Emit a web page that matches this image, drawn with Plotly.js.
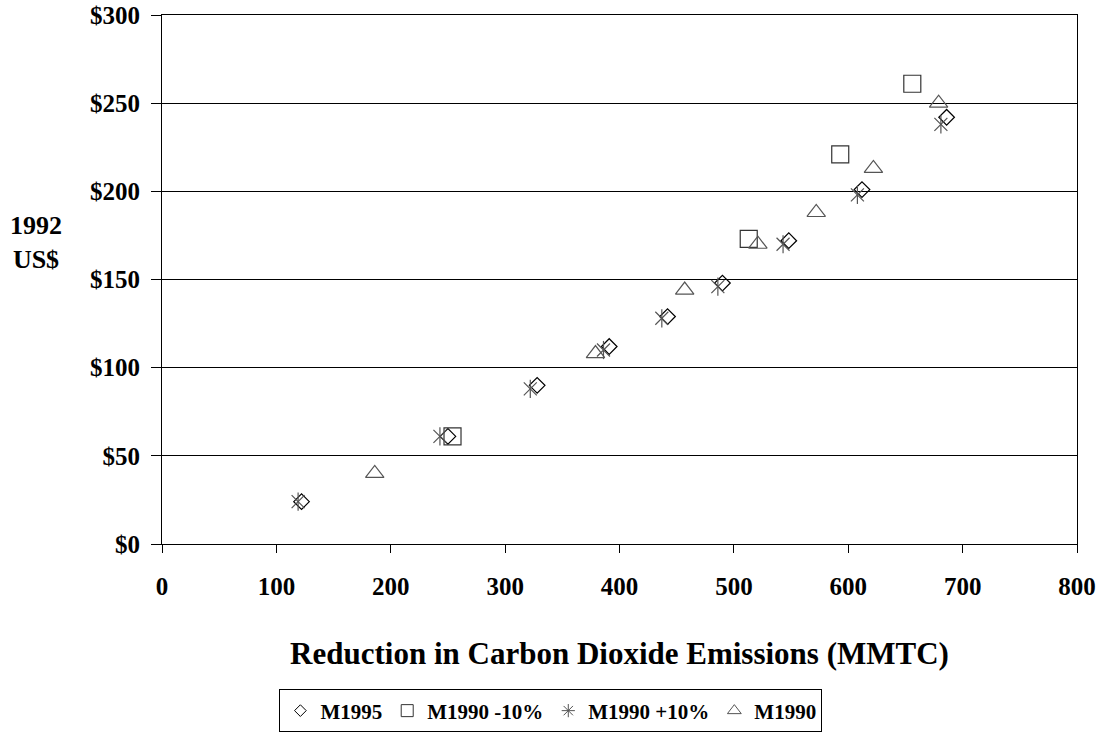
<!DOCTYPE html>
<html>
<head>
<meta charset="utf-8">
<script src="https://cdn.plot.ly/plotly-3.0.1.min.js"></script>
<style>html,body{margin:0;padding:0;background:#fff;}#chart{width:1102px;height:733px;}</style>
</head>
<body>
<div id="chart"></div>
<script>
// Data
const seriesNames = ["M1995", "M1990 -10%", "M1990 +10%", "M1990"];
const m1995X = [122, 250, 328, 391, 442, 490, 548, 612, 686];
const m1995Y = [24, 61, 90, 112, 129, 148, 172, 201, 242];
const m1990MinusX = [254, 513, 593, 656];
const m1990MinusY = [61, 173, 221, 261];
const m1990PlusX = [119, 243, 322, 386, 437, 486, 543, 608, 681];
const m1990PlusY = [24, 61, 88, 110, 128, 146, 170, 198, 238];
const m1990X = [186, 379, 457, 521, 572, 622, 679];
const m1990Y = [40, 108, 144, 170, 188, 213, 250];
const xTickVals = [0, 100, 200, 300, 400, 500, 600, 700, 800];
const yTickVals = [0, 50, 100, 150, 200, 250, 300];
const yTickText = ["$0", "$50", "$100", "$150", "$200", "$250", "$300"];

const FONT = "Liberation Serif, Times New Roman, serif";

const traces = [
  {x: m1995X, y: m1995Y, type: "scatter", mode: "markers", name: seriesNames[0], showlegend: false,
   marker: {symbol: "diamond-open", size: 12, color: "#000", line: {width: 1.2, color: "#000"}}},
  {x: m1990MinusX, y: m1990MinusY, type: "scatter", mode: "markers", name: seriesNames[1], showlegend: false,
   marker: {symbol: "square-open", size: 17, color: "#333", line: {width: 1.2, color: "#333"}}},
  {x: m1990PlusX, y: m1990PlusY, type: "scatter", mode: "markers", name: seriesNames[2], showlegend: false,
   marker: {symbol: "x-thin-open", size: 13, color: "#555", line: {width: 1.2, color: "#555"}}},
  {x: m1990PlusX, y: m1990PlusY, type: "scatter", mode: "markers", name: seriesNames[2], showlegend: false,
   marker: {symbol: "line-ns-open", size: 13, color: "#555", line: {width: 1.2, color: "#555"}}},
  {x: m1990X, y: m1990Y, type: "scatter", mode: "markers", name: seriesNames[3], showlegend: false,
   marker: {symbol: "triangle-up-open", size: 16, color: "#555", line: {width: 1.2, color: "#555"}}},
  // legend entries (small symbols as in the reference legend)
  {x: [null], y: [null], type: "scatter", mode: "markers", name: seriesNames[0],
   marker: {symbol: "diamond-open", size: 9, color: "#000", line: {width: 1, color: "#000"}}},
  {x: [null], y: [null], type: "scatter", mode: "markers", name: seriesNames[1],
   marker: {symbol: "square-open", size: 12, color: "#333", line: {width: 1, color: "#333"}}},
  {x: [null], y: [null], type: "scatter", mode: "markers", name: seriesNames[2],
   marker: {symbol: "asterisk-open", size: 11, color: "#555", line: {width: 1, color: "#555"}}},
  {x: [null], y: [null], type: "scatter", mode: "markers", name: seriesNames[3],
   marker: {symbol: "triangle-up-open", size: 12, color: "#555", line: {width: 1, color: "#555"}}}
];

const layout = {
  width: 1102, height: 733,
  paper_bgcolor: "#fff", plot_bgcolor: "#fff",
  margin: {l: 162, r: 25, t: 15, b: 189, autoexpand: false},
  font: {family: FONT, color: "#000", size: 21, weight: "bold"},
  xaxis: {
    range: [0, 800], tickmode: "array", tickvals: xTickVals, ticks: "outside", ticklen: 8, tickcolor: "#000", tickwidth: 1,
    showline: true, linecolor: "#000", linewidth: 1, mirror: true, automargin: false,
    showgrid: false, zeroline: false, ticklabelstandoff: 12,
    tickfont: {family: FONT, size: 25, weight: "bold", color: "#000"},
    title: {text: "Reduction in Carbon Dioxide Emissions (MMTC)", standoff: 43,
            font: {family: FONT, size: 31, weight: "bold", color: "#000"}}
  },
  yaxis: {
    range: [0, 300], tickmode: "array", tickvals: yTickVals, ticktext: yTickText, ticks: "outside", ticklen: 10, tickcolor: "#000", tickwidth: 1,
    showline: true, linecolor: "#000", linewidth: 1, mirror: true, automargin: false,
    showgrid: true, gridcolor: "#000", gridwidth: 1, zeroline: false, ticklabelstandoff: 6,
    tickfont: {family: FONT, size: 25, weight: "bold", color: "#000"}
  },
  annotations: [{
    text: "1992<br>US$", xref: "paper", yref: "paper", x: -0.138, y: 0.57,
    xanchor: "center", yanchor: "middle", showarrow: false, align: "center",
    font: {family: FONT, size: 26, weight: "bold", color: "#000"}
  }],
  legend: {
    orientation: "h", x: 0.425, xanchor: "center", y: -0.275, yanchor: "top",
    bordercolor: "#000", borderwidth: 1, bgcolor: "#fff",
    font: {family: FONT, size: 21, weight: "bold", color: "#000"},
    itemwidth: 30, tracegroupgap: 0
  },
  showlegend: true
};

Plotly.newPlot("chart", traces, layout, {displayModeBar: false, staticPlot: true});
</script>
</body>
</html>
